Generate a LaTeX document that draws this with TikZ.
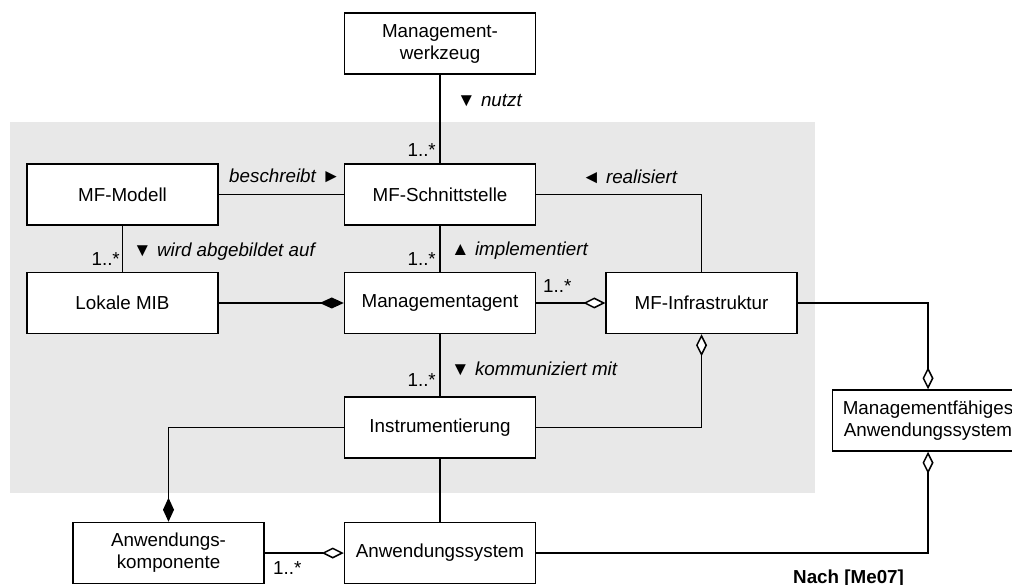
\documentclass[tikz,border=0pt]{standalone}
\usepackage{fontspec}
\setmainfont{Liberation Sans}
\usetikzlibrary{arrows.meta}
\definecolor{bgarea}{RGB}{232,232,232}
\newcommand\diafont{\fontsize{18.8}{22}\selectfont}
\tikzset{
  umlbox/.style={draw, line width=1.5pt, fill=white, minimum width=191pt,
    minimum height=61pt, inner sep=0pt, align=center, font=\diafont},
  conn/.style={line width=1.5pt},
  assoc/.style={font=\diafont, inner sep=0pt},
  mult/.style={font=\diafont, inner sep=0pt},
  aggr/.style={-{Diamond[length=22pt,width=11pt,fill=white]}},
  comp/.style={-{Diamond[length=24pt,width=11pt]}},
}
\begin{document}
\begin{tikzpicture}[x=1pt,y=-1pt]
\useasboundingbox (0,0) rectangle (1012,585);
% shaded package area
\fill[bgarea] (10,122) rectangle (815,493);

% classes
\node[umlbox] (tool)   at (440,43.5)  {Management-\\werkzeug};
\node[umlbox] (schnitt) at (440,194.5) {MF-Schnittstelle};
\node[umlbox] (agent)  at (440,303)   {Managementagent};
\node[umlbox] (instr)  at (440,427.5) {Instrumentierung};
\node[umlbox] (appsys) at (440,553)   {Anwendungssystem};
\node[umlbox] (model)  at (122.5,194.5) {MF-Modell};
\node[umlbox] (mib)    at (122.5,303)   {Lokale MIB};
\node[umlbox] (infra)  at (701.5,303)   {MF-Infrastruktur};
\node[umlbox] (mfas)   at (928,420.5)   {Managementf\"ahiges\\Anwendungssystem};
\node[umlbox] (kompo)  at (168.5,553)   {Anwendungs-\\komponente};

% associations
\draw[conn] (tool.south) -- (schnitt.north);
\draw[conn] (model.east) -- (schnitt.west);
\draw[conn] (model.south) -- (mib.north);
\draw[conn] (schnitt.south) -- (agent.north);
\draw[conn] (schnitt.east) -| (infra.north);
\draw[conn] (agent.south) -- (instr.north);
\draw[conn] (instr.south) -- (appsys.north);

% compositions
\draw[conn,comp] (mib.east) -- (agent.west);
\draw[conn,comp] (instr.west) -| (kompo.north);

% aggregations
\draw[conn,aggr] (agent.east) -- (infra.west);
\draw[conn,aggr] (instr.east) -| (infra.south);
\draw[conn,aggr] (infra.east) -| (mfas.north);
\draw[conn,aggr] (appsys.east) -| (mfas.south);
\draw[conn,aggr] (kompo.east) -- (appsys.west);

% association names
\node[assoc, anchor=base west] (lnutzt) at (457,107) {▼ \textit{nutzt}};
\node[assoc, anchor=base west] (lbeschr) at (229,183) {\textit{beschreibt} ►};
\node[assoc, anchor=base west] (labgeb) at (133,257) {▼ \textit{wird abgebildet auf}};
\node[assoc, anchor=base west] (lreal) at (582,184) {◄ \textit{realisiert}};
\node[assoc, anchor=base west] (limpl) at (451,256) {▲ \textit{implementiert}};
\node[assoc, anchor=base west] (lkomm) at (451,375) {▼ \textit{kommuniziert mit}};

% multiplicities
\node[mult, anchor=base east] (m1) at (436,157) {1..*};
\node[mult, anchor=base east] (m2) at (120,266) {1..*};
\node[mult, anchor=base east] (m3) at (436,266) {1..*};
\node[mult, anchor=base west] (m4) at (543,293) {1..*};
\node[mult, anchor=base east] (m5) at (436,386) {1..*};
\node[mult, anchor=base west] (m6) at (273,574) {1..*};

% source note
\node[font=\diafont\bfseries, inner sep=0pt, anchor=base west] (src) at (793,583) {Nach [Me07]};
\end{tikzpicture}
\end{document}
